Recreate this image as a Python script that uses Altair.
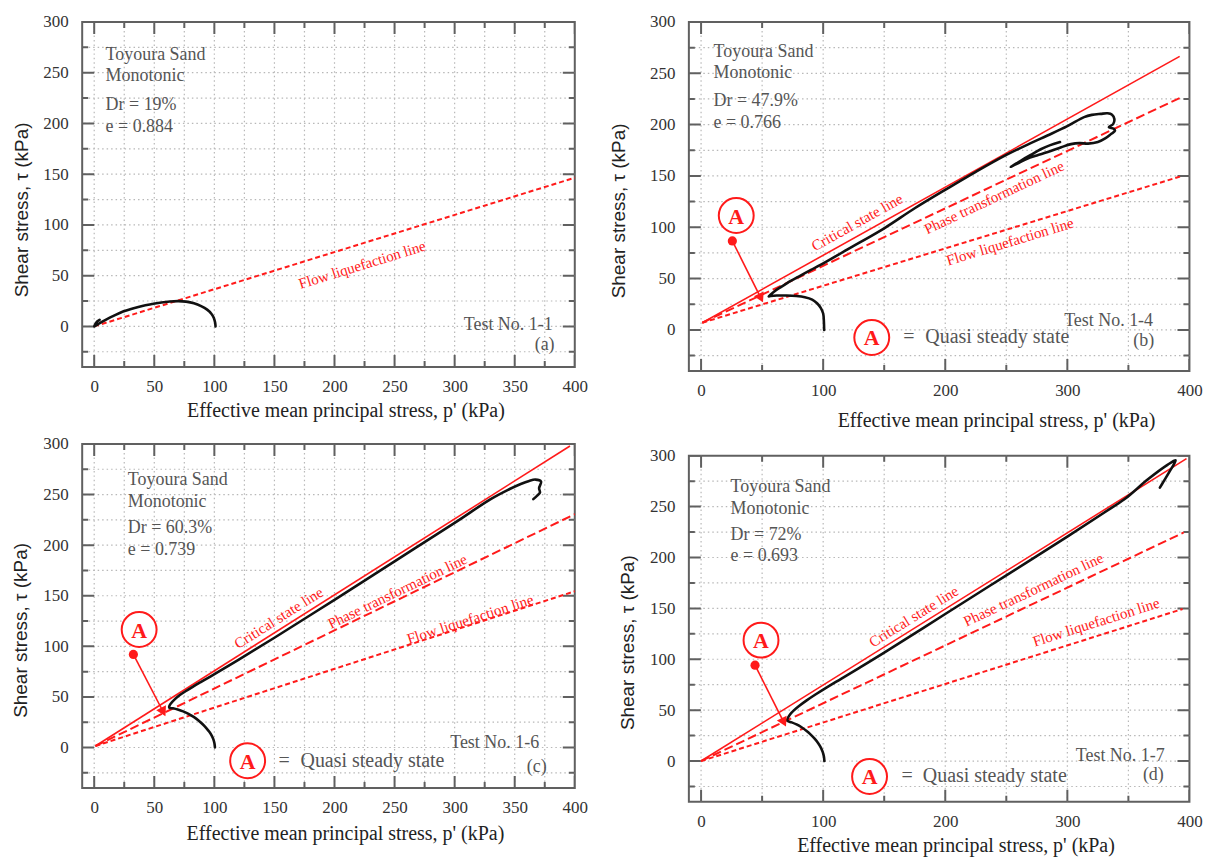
import math
import altair as alt
import pandas as pd

SERIF = "Liberation Serif"
SANS = "Liberation Sans"
RED = "#ff1a1a"
TXT = "#555555"
FRAME = "#606060"
GRID = "#b8b8b8"

X_TITLE = "Effective mean principal stress, p' (kPa)"
Y_TITLE = "Shear stress, τ (kPa)"

X_DOMAIN = [-10, 400]
Y_DOMAIN = [-40, 300]

Y_LABELS = [0, 50, 100, 150, 200, 250, 300]
Y_MINOR = [-25, 25, 75, 125, 175, 225, 275]
Y_GRID = [-25, 0, 25, 50, 75, 100, 125, 150, 175, 200, 225, 250, 275]

X_LABELS_FINE = [0, 50, 100, 150, 200, 250, 300, 350, 400]
X_MINOR_FINE = [25, 75, 125, 175, 225, 275, 325, 375]
X_GRID_FINE = [0, 25, 50, 75, 100, 125, 150, 175, 200, 225, 250, 275, 300, 325, 350, 375]

X_LABELS_COARSE = [0, 100, 200, 300, 400]
X_MINOR_COARSE = [50, 150, 250, 350]
X_GRID_COARSE = [0, 50, 100, 150, 200, 250, 300, 350]

INFO_LINES = ["Toyoura Sand", "Monotonic"]

# ---------------- panel (a) Test No. 1-1 ----------------
A_FLL_P = [0, 400]
A_FLL_T = [0, 146.5]
A_CURVE_P = [101, 100.6, 99.5, 97.5, 94, 89, 83, 76.5, 70, 63, 56, 48, 40, 32, 24, 16.5, 9.5, 5, 2, 0, 1, 2.5, 4.5]
A_CURVE_T = [0, 4, 8.5, 12.5, 16.5, 20, 22.8, 24.4, 24.9, 24.5, 23.6, 22, 20.2, 17.6, 14.6, 10.6, 6.4, 3.5, 1.4, 0, 2.5, 4.8, 6.5]
A_INFO = ["Dr = 19%", "e = 0.884"]
A_INFO_P = 9.5
A_INFO_T = [267, 246.5, 218, 196]

# ---------------- panel (b) Test No. 1-4 ----------------
B_CSL_P = [1, 392]
B_CSL_T = [7, 266.5]
B_PTL_P = [1, 394]
B_PTL_T = [7, 227]
B_FLL_P = [1, 394]
B_FLL_T = [7, 150]
B_CURVE_P = [100.8, 100.6, 100, 98, 95, 91, 85, 78, 70, 62, 57, 55.4, 57, 60, 65, 70.5, 80, 90, 97.8,
             120, 150, 175, 201.7, 225, 250, 270, 283.7, 300, 313.7, 320, 327.4, 333, 336.6, 338.5, 337.5,
             334, 338, 339, 336, 331, 325, 317, 310, 303, 295, 284, 275, 267, 260, 256, 253.6,
             256, 261.8, 270, 278.2, 286, 294]
B_CURVE_T = [0, 8, 16, 21.5, 26, 29.5, 31.8, 33, 33.5, 33.5, 33, 32.7, 34.5, 37.5, 41.5, 45.6, 52, 58.5, 63.3,
             78.5, 99, 118.5, 137.7, 154, 170.5, 182, 189.4, 198.5, 207.3, 209.5, 210.5, 211, 209.7, 205.5, 200.5,
             197.5, 196, 194, 191, 186.5, 183, 181.5, 182, 181, 178, 173.3, 170, 166.8, 162.5, 160.3, 158.8,
             160.5, 164.8, 170.5, 176, 180, 183]
B_INFO = ["Dr = 47.9%", "e = 0.766"]
B_INFO_P = 10.2
B_INFO_T = [270.6, 250.5, 222.6, 201.6]

# ---------------- panel (c) Test No. 1-6 ----------------
C_CSL_P = [1, 396]
C_CSL_T = [1.5, 298]
C_PTL_P = [1, 400]
C_PTL_T = [1.5, 230.6]
C_FLL_P = [1, 400]
C_FLL_T = [1.5, 154.4]
C_CURVE_P = [100.5, 100.1, 99.2, 97.8, 95.8, 93.3, 90.3, 86.8, 82.8, 78.5, 74, 69.5, 65.5, 62.5,
             62.6, 64, 67, 71, 76, 82, 89, 97, 120, 150, 200, 250, 300, 330, 345, 355, 362, 367.2,
             371.9, 370.3, 371, 368.7, 365.5]
C_CURVE_T = [0, 4, 8, 11.8, 15.5, 19.2, 23, 26.8, 30.3, 33.3, 35.7, 37.5, 38.7, 39.4,
             41.2, 43.8, 47.6, 51.6, 55.6, 60, 64.9, 70.4, 86.6, 108.5, 146, 184, 222, 245.5, 255, 260.5, 263.5, 264.8,
             262.9, 256.3, 252, 249, 245.5]
C_INFO = ["Dr = 60.3%", "e = 0.739"]
C_INFO_P = 28
C_INFO_T = [264.5, 243, 216.8, 195.4]

# ---------------- panel (d) Test No. 1-7 ----------------
D_CSL_P = [0, 397.6]
D_CSL_T = [0, 297.2]
D_PTL_P = [0, 395.4]
D_PTL_T = [0, 224.6]
D_FLL_P = [0, 394.4]
D_FLL_T = [0, 149.4]
D_CURVE_P = [101, 100.6, 99.6, 98, 95.8, 93, 89.8, 86.2, 82.3, 78.2, 74.2, 71, 70.6,
             71.3, 73, 76, 80.5, 86.5, 94, 103, 115, 130, 150, 200, 250, 300, 330, 347, 366, 382, 388.7,
             383.9, 379, 375.8]
D_CURVE_T = [0, 4.5, 9, 13.5, 17.8, 22, 26, 29.8, 33.2, 36, 38, 39.3, 40.6,
             42.8, 46, 49.8, 54.3, 59.6, 65.6, 72.4, 81, 91.8, 106.5, 144.5, 182.5, 220.5, 244, 257.4, 276.8, 291, 295.5,
             284.8, 275, 268.7]
D_INFO = ["Dr = 72%", "e = 0.693"]
D_INFO_P = 24.2
D_INFO_T = [268.8, 247.8, 222, 201]

LINE_LABELS = ["Critical state line", "Phase transformation line", "Flow liquefaction line"]
TEST_LABELS = ["Test No. 1-1", "Test No. 1-4", "Test No. 1-6", "Test No. 1-7"]
PANEL_TAGS = ["(a)", "(b)", "(c)", "(d)"]
LEGEND_TEXT = "Quasi steady state"


def df(p, t, **extra):
    d = {"p": list(p), "t": list(t)}
    d.update(extra)
    return pd.DataFrame(d)


def build_panel(P):
    W, H = P["W"], P["H"]
    sx = W / (X_DOMAIN[1] - X_DOMAIN[0])
    sy = H / (Y_DOMAIN[1] - Y_DOMAIN[0])
    xs = alt.Scale(domain=X_DOMAIN, nice=False, zero=False)
    ys = alt.Scale(domain=Y_DOMAIN, nice=False, zero=False)
    xaxis = alt.Axis(values=P["xlabels"], grid=False, ticks=False, tickSize=0, domain=False,
                     labelFont=SERIF, labelFontSize=17, labelColor="#333333", labelPadding=12,
                     labelFlush=False, labelOverlap=False,
                     title=X_TITLE, titleFont=SERIF, titleFontSize=20, titleFontWeight="normal",
                     titleColor="#222222", titleX=W / 2 + P["xt_dx"], titleY=P["xt_dy"],
                     titleAlign="center", titleBaseline="middle")
    yaxis = alt.Axis(values=Y_LABELS, grid=False, ticks=False, tickSize=0, domain=False,
                     labelFont=SERIF, labelFontSize=17, labelColor="#333333", labelPadding=14,
                     labelFlush=False, labelOverlap=False,
                     title=Y_TITLE, titleFont=SANS, titleFontSize=19, titleFontWeight="normal",
                     titleColor="#222222", titleAngle=270, titleX=P["yt_x"], titleY=H / 2 + P["yt_dy"],
                     titleAlign="center", titleBaseline="middle")
    X = alt.X("p:Q", scale=xs, axis=xaxis)
    Y = alt.Y("t:Q", scale=ys, axis=yaxis)

    layers = []
    # dotted grid
    layers.append(alt.Chart(pd.DataFrame({"p": P["xgrid"]})).mark_rule(
        color=GRID, strokeWidth=1.2, strokeDash=[1.5, 3]).encode(x=X))
    layers.append(alt.Chart(pd.DataFrame({"t": Y_GRID})).mark_rule(
        color=GRID, strokeWidth=1.2, strokeDash=[1.5, 3]).encode(y=Y))
    # inward ticks on all four sides
    for vals, size in ((P["xlabels"], 24), (P["xminor"], 12)):
        for ypos in (0, H):
            layers.append(alt.Chart(pd.DataFrame({"p": vals})).mark_tick(
                orient="vertical", size=size, thickness=2, color=FRAME, opacity=1, clip=True
            ).encode(x=X, y=alt.value(ypos)))
    for vals, size in ((Y_LABELS, 24), (Y_MINOR, 12)):
        for xpos in (0, W):
            layers.append(alt.Chart(pd.DataFrame({"t": vals})).mark_tick(
                orient="horizontal", size=size, thickness=2, color=FRAME, opacity=1, clip=True
            ).encode(y=Y, x=alt.value(xpos)))

    # reference lines
    dashes = {"csl": None, "ptl": [9, 4], "fll": [5, 3]}
    for key, (lp, lt) in P["lines"].items():
        kw = dict(color=RED, strokeWidth=1.6 if key == "csl" else 2)
        if dashes[key]:
            kw["strokeDash"] = dashes[key]
        layers.append(alt.Chart(df(lp, lt)).mark_line(**kw).encode(x=X, y=Y))

    # stress path
    cp, ct = P["curve"]
    layers.append(alt.Chart(df(cp, ct, i=list(range(len(cp))))).mark_line(
        color="#111111", strokeWidth=2.6, strokeJoin="round", strokeCap="round", interpolate="catmull-rom"
    ).encode(x=X, y=Y, order="i:Q"))

    # rotated line labels
    for text, key, lp_, lt_ in P["line_labels"]:
        lp, lt = P["lines"][key]
        slope = (lt[1] - lt[0]) / (lp[1] - lp[0])
        ang = math.degrees(math.atan(slope * sy / sx))
        layers.append(alt.Chart(df([lp_], [lt_], s=[text])).mark_text(
            font=SERIF, fontSize=15, color=RED, angle=360 - ang, align="center", baseline="middle"
        ).encode(x=X, y=Y, text="s:N"))

    # info block
    info_txt = INFO_LINES + P["info"]
    layers.append(alt.Chart(df([P["info_p"]] * 4, P["info_t"], s=info_txt)).mark_text(
        font=SERIF, fontSize=18, color=TXT, align="left", baseline="middle"
    ).encode(x=X, y=Y, text="s:N"))

    # test number and panel tag
    tp, tt = P["test_pos"]
    gp, gt = P["tag_pos"]
    layers.append(alt.Chart(df([tp, gp], [tt, gt], s=[P["test"], P["tag"]])).mark_text(
        font=SERIF, fontSize=18, color=TXT, align="right", baseline="middle"
    ).encode(x=X, y=Y, text="s:N"))

    # quasi steady state marker
    if P.get("qss"):
        (cpp, ctt), (dp, dt), (ap, at) = P["qss"]
        layers.append(alt.Chart(df([dp, ap], [dt, at])).mark_line(
            color=RED, strokeWidth=1.6).encode(x=X, y=Y))
        layers.append(alt.Chart(df([dp], [dt])).mark_point(
            shape="circle", filled=True, size=85, color=RED, opacity=1).encode(x=X, y=Y))
        dxp = (ap - dp) * sx
        dyp = (dt - at) * sy
        theta = math.degrees(math.atan2(dxp, -dyp)) % 360
        layers.append(alt.Chart(df([ap], [at])).mark_point(
            shape="triangle-up", filled=True, size=120, color=RED, opacity=1, angle=theta
        ).encode(x=X, y=Y))
        layers.append(alt.Chart(df([cpp], [ctt])).mark_point(
            shape="circle", filled=True, fill="white", stroke=RED, strokeWidth=2, size=1225, opacity=1
        ).encode(x=X, y=Y))
        layers.append(alt.Chart(df([cpp], [ctt], s=["A"])).mark_text(
            font=SERIF, fontSize=22, fontWeight="bold", color=RED, align="center", baseline="middle", dy=1
        ).encode(x=X, y=Y, text="s:N"))
    # legend
    if P.get("legend"):
        (lcp, lct), eqp, ltp = P["legend"]
        layers.append(alt.Chart(df([lcp], [lct])).mark_point(
            shape="circle", filled=True, fill="white", stroke=RED, strokeWidth=2, size=1225, opacity=1
        ).encode(x=X, y=Y))
        layers.append(alt.Chart(df([lcp], [lct], s=["A"])).mark_text(
            font=SERIF, fontSize=22, fontWeight="bold", color=RED, align="center", baseline="middle", dy=1
        ).encode(x=X, y=Y, text="s:N"))
        layers.append(alt.Chart(df([eqp], [lct], s=["="])).mark_text(
            font=SERIF, fontSize=20, color=TXT, align="center", baseline="middle"
        ).encode(x=X, y=Y, text="s:N"))
        layers.append(alt.Chart(df([ltp], [lct], s=[LEGEND_TEXT])).mark_text(
            font=SERIF, fontSize=20, color=TXT, align="left", baseline="middle"
        ).encode(x=X, y=Y, text="s:N"))

    return alt.layer(*layers).properties(width=W, height=H)


PANEL_A = dict(W=494, H=346, xlabels=X_LABELS_FINE, xminor=X_MINOR_FINE, xgrid=X_GRID_FINE,
               xt_dx=17, xt_dy=44, yt_x=-61, yt_dy=15,
               lines={"fll": (A_FLL_P, A_FLL_T)},
               curve=(A_CURVE_P, A_CURVE_T),
               line_labels=[(LINE_LABELS[2], "fll", 223, 60.7)],
               info=A_INFO, info_p=A_INFO_P, info_t=A_INFO_T,
               test=TEST_LABELS[0], tag=PANEL_TAGS[0], test_pos=(381.6, 1.6), tag_pos=(383.2, -18))

PANEL_B = dict(W=502, H=350, xlabels=X_LABELS_COARSE, xminor=X_MINOR_COARSE, xgrid=X_GRID_COARSE,
               xt_dx=57, xt_dy=49.7, yt_x=-71, yt_dy=14,
               lines={"csl": (B_CSL_P, B_CSL_T), "ptl": (B_PTL_P, B_PTL_T), "fll": (B_FLL_P, B_FLL_T)},
               curve=(B_CURVE_P, B_CURVE_T),
               line_labels=[(LINE_LABELS[0], "csl", 127.8, 104.8), (LINE_LABELS[1], "ptl", 240, 129),
                            (LINE_LABELS[2], "fll", 253, 86)],
               info=B_INFO, info_p=B_INFO_P, info_t=B_INFO_T,
               test=TEST_LABELS[1], tag=PANEL_TAGS[1], test_pos=(370.2, 8.7), tag_pos=(371.2, -11.3),
               qss=((28.8, 111.4), (25.6, 86.7), (49, 31)),
               legend=((139.8, -7.4), 170.2, 183.7))

PANEL_C = dict(W=494, H=345, xlabels=X_LABELS_FINE, xminor=X_MINOR_FINE, xgrid=X_GRID_FINE,
               xt_dx=16.5, xt_dy=46, yt_x=-62, yt_dy=14,
               lines={"csl": (C_CSL_P, C_CSL_T), "ptl": (C_PTL_P, C_PTL_T), "fll": (C_FLL_P, C_FLL_T)},
               curve=(C_CURVE_P, C_CURVE_T),
               line_labels=[(LINE_LABELS[0], "csl", 153.5, 128.1), (LINE_LABELS[1], "ptl", 252.4, 154.4),
                            (LINE_LABELS[2], "fll", 312.9, 126.8)],
               info=C_INFO, info_p=C_INFO_P, info_t=C_INFO_T,
               test=TEST_LABELS[2], tag=PANEL_TAGS[2], test_pos=(370.3, 4.9), tag_pos=(376.7, -19.7),
               qss=((37.4, 116.6), (32.6, 92), (57.5, 35.1)),
               legend=((127.7, -13.1), 158, 171.7))

PANEL_D = dict(W=502, H=347, xlabels=X_LABELS_COARSE, xminor=X_MINOR_COARSE, xgrid=X_GRID_COARSE,
               xt_dx=16.4, xt_dy=44, yt_x=-62, yt_dy=13.5,
               lines={"csl": (D_CSL_P, D_CSL_T), "ptl": (D_PTL_P, D_PTL_T), "fll": (D_FLL_P, D_FLL_T)},
               curve=(D_CURVE_P, D_CURVE_T),
               line_labels=[(LINE_LABELS[0], "csl", 174.2, 142.1), (LINE_LABELS[1], "ptl", 272.2, 168.4),
                            (LINE_LABELS[2], "fll", 323.5, 136.5)],
               info=D_INFO, info_p=D_INFO_P, info_t=D_INFO_T,
               test=TEST_LABELS[3], tag=PANEL_TAGS[3], test_pos=(379.7, 5.2), tag_pos=(379, -13.5),
               qss=((49.1, 118.8), (44.2, 94.2), (67.8, 38)),
               legend=((138, -15.2), 168.7, 181.6))

a = build_panel(PANEL_A)
b = build_panel(PANEL_B).properties(title=alt.TitleParams(text=" ", fontSize=2, offset=2.4))
c = build_panel(PANEL_C)
d = build_panel(PANEL_D)

left = alt.vconcat(a, c, spacing=12.2)
right = alt.vconcat(b, d, spacing=14)

chart = alt.hconcat(left, right, spacing=19.4).properties(
    padding={"left": 2.4, "top": -2.2, "right": 0, "bottom": 0}
).configure_view(stroke=FRAME, strokeWidth=2)

chart.save("out.html", embed_options={"renderer": "svg", "actions": False})
